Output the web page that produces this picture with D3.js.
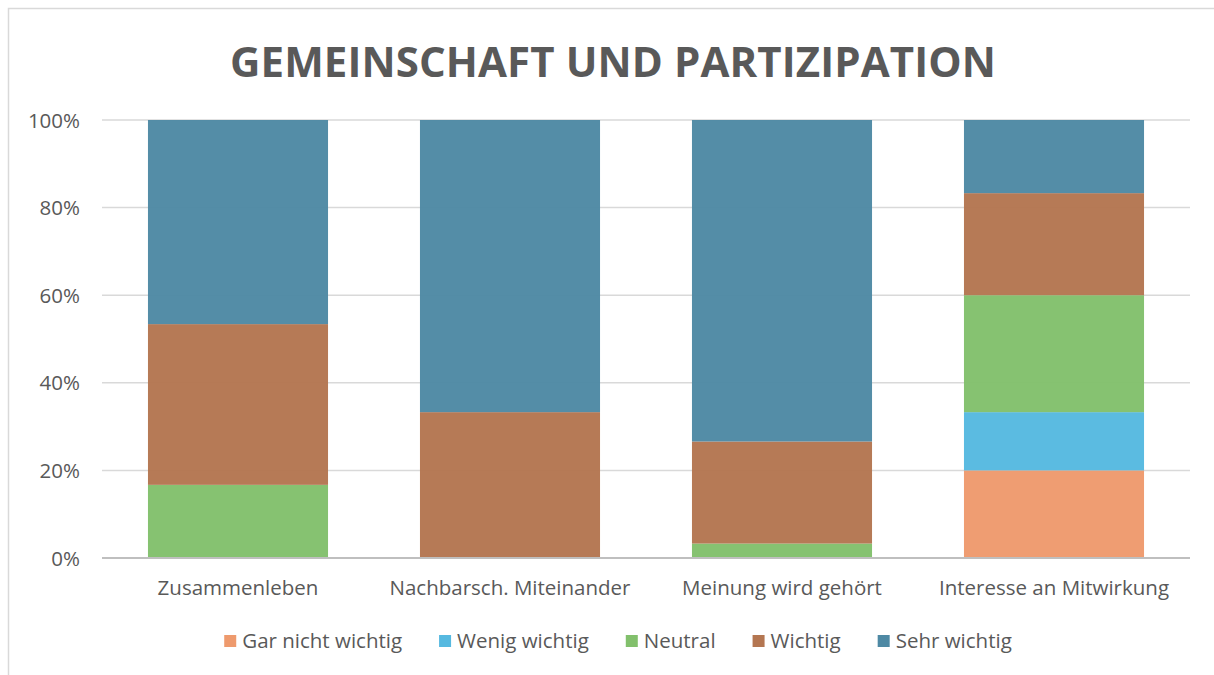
<!DOCTYPE html>
<html><head><meta charset="utf-8">
<script src="https://cdn.jsdelivr.net/npm/d3@7"></script>
<style>body{margin:0;background:#fff}svg{display:block}text{font-family:"Open Sans",sans-serif}</style>
</head><body><svg id="c" width="1214" height="675"></svg>
<script>
const categories = ["Zusammenleben","Nachbarsch. Miteinander","Meinung wird gehört","Interesse an Mitwirkung"];
const seriesNames = ["Gar nicht wichtig","Wenig wichtig","Neutral","Wichtig","Sehr wichtig"];
const garNicht = [0, 0, 0, 20.0];
const wenig = [0, 0, 0, 13.3];
const neutral = [16.7, 0, 3.3, 26.7];
const wichtig = [36.7, 33.3, 23.3, 23.3];
const sehr = [46.6, 66.7, 73.4, 16.7];
const colors = ["#EE9A6D","#56B9E0","#82C06C","#B47651","#4E89A4"];
const yTicks = [0,0.2,0.4,0.6,0.8,1.0];
const title = "GEMEINSCHAFT UND PARTIZIPATION";

const svg = d3.select("#c");
// frame
svg.append("rect").attr("x",8.5).attr("y",8.5).attr("width",1220).attr("height",700)
  .attr("fill","none").attr("stroke","#d9d9d9").attr("stroke-width",1.5);

const x = d3.scaleBand().domain(categories).range([102,1190]).paddingInner(0.338).paddingOuter(0.169);
const y = d3.scaleLinear().domain([0,1]).range([558,120]);

// gridlines
svg.append("g").selectAll("line").data(yTicks.slice(1)).join("line")
  .attr("x1",102).attr("x2",1190).attr("y1",d=>y(d)).attr("y2",d=>y(d))
  .attr("stroke","#d9d9d9").attr("stroke-width",1.5);

// data
const rows = categories.map((c,i)=>({cat:c, v:[garNicht[i],wenig[i],neutral[i],wichtig[i],sehr[i]]}));
const stacked = d3.stack().keys(d3.range(5)).value((d,k)=>d.v[k]/d3.sum(d.v))(rows);

svg.append("g").selectAll("g").data(stacked).join("g")
  .attr("fill",(d,i)=>colors[i]).attr("fill-opacity",0.97)
  .selectAll("rect").data(d=>d).join("rect")
  .attr("x",d=>x(d.data.cat)).attr("width",x.bandwidth())
  .attr("y",d=>y(d[1])).attr("height",d=>Math.max(0,y(d[0])-y(d[1])));

const fs = 20.5;
// y axis
const ya = svg.append("g").attr("transform","translate(80,0)")
  .call(d3.axisLeft(y).tickValues(yTicks).tickFormat(d3.format(".0%")).tickSize(0).tickPadding(0));
ya.select(".domain").remove();
ya.selectAll("text").attr("font-size",fs).attr("fill","#595959").attr("font-family","Open Sans").attr("dy","0.35em");

// x axis
const xa = svg.append("g").attr("transform","translate(0,558)")
  .call(d3.axisBottom(x).tickSize(0).tickPadding(22));
xa.select(".domain").attr("stroke","#bfbfbf").attr("stroke-width",2.2).attr("d","M102,0H1190");
xa.selectAll("text").attr("font-size",fs).attr("fill","#595959").attr("font-family","Open Sans");

// title
svg.append("text").attr("x",613).attr("y",77).attr("text-anchor","middle")
  .attr("font-size",42).attr("font-weight","bold").attr("fill","#595959")
  .attr("letter-spacing",0.1).text(title);

// legend
const gap = 37;
const lg = svg.append("g");
let cx = 0;
seriesNames.forEach((n,i)=>{
  const g = lg.append("g");
  g.append("rect").attr("x",0).attr("y",-6).attr("width",12).attr("height",12).attr("fill",colors[i]);
  const t = g.append("text").attr("x",18).attr("y",0).attr("dy","0.35em").attr("font-size",fs).attr("fill","#595959").text(n);
  const w = 18 + t.node().getComputedTextLength();
  g.attr("transform",`translate(${cx},641)`);
  cx += w + gap;
});
const total = cx - gap;
lg.attr("transform",`translate(${618 - total/2},0)`);
</script></body></html>
